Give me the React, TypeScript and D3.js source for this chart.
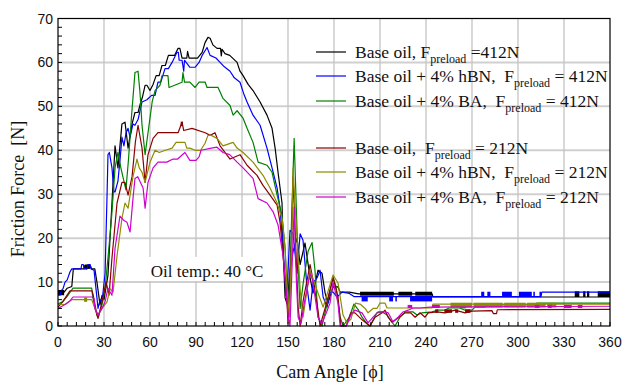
import React from "react";
import * as d3 from "d3";

type P = [number, number];
type Band = [number, number, number, number];

const angleTicks = [0, 30, 60, 90, 120, 150, 180, 210, 240, 270, 300, 330, 360];
const forceTicks = [0, 10, 20, 30, 40, 50, 60, 70];

const legendPrefix = [
  "Base oil, F",
  "Base oil + 4% hBN,  F",
  "Base oil + 4% BA,  F",
  "Base oil,  F",
  "Base oil + 4% hBN,  F",
  "Base oil + 4% BA,  F",
];
const legendSuffix = [" =412N", " = 412N", " = 412N", " = 212N", " = 212N", " = 212N"];
const seriesColors = ["#000000", "#0000ff", "#008000", "#8b0000", "#8c8c00", "#d000d0"];

const baseOil412: P[] = [
  [0, 7.3], [1, 8], [2, 7.3], [3, 8], [4, 7.7], [6, 8.6], [9, 9], [10, 13], [17, 13], [17.5, 13.8], [18.5, 13], [19.5, 13.8],
  [21, 13.8], [22, 13], [24, 13], [25.4, 10], [27.4, 4.8], [28.7, 7], [30, 6], [32.6, 11.6], [35.2, 28], [37.2, 41], [39.1, 36],
  [41.7, 46], [43.7, 46.4], [45.7, 40.5], [48.3, 46], [50.2, 48.6], [52.2, 48.6], [54, 51], [55, 52], [56.8, 54.8], [58, 54.8],
  [60, 53.6], [62, 55], [64, 57], [66, 57], [67.8, 59.3], [70, 59.3], [72, 61.6], [76, 61.6], [78.3, 63.2], [79.5, 63.2],
  [80.9, 61], [84, 61], [84.5, 62.5], [85.5, 61], [91, 61], [94, 62.3], [95.9, 64.5], [97.8, 65.7], [99.2, 65.5], [101, 64],
  [103.7, 63.2], [106, 63.2], [106.5, 61.5], [107, 63], [108.9, 62], [112, 61.6], [116.8, 60], [118.7, 58], [120.7, 57],
  [124, 55], [127.2, 53.6], [131.8, 51], [136.3, 48], [139.6, 45], [141.6, 40.5], [143.5, 35], [146.1, 28], [146.8, 17.7],
  [148.1, 6.4], [149.4, 5], [151.3, 12.7], [153.3, 17], [155.9, 20], [157.9, 14], [161.1, 18.9], [164.4, 11], [166.3, 7.5],
  [169.6, 12.7], [172.2, 12], [174.2, 7.5], [176.1, 5.2], [179.4, 8.9], [182.6, 8.9], [184, 7.7], [190, 7.7], [196, 7.3],
  [244, 7.3], [244.5, 6.6], [360, 6.6],
];
const hbn412: P[] = [
  [0, 7], [1.3, 7], [2, 8], [3.3, 8.5], [4.6, 10], [6, 10.5], [7.8, 12.3], [9, 13], [15, 13], [15.5, 14], [16.5, 14], [17, 13],
  [19, 13], [19.5, 14], [21, 14], [21.5, 13], [23.5, 12.7], [25.4, 6.4], [26.1, 4], [27.5, 6], [28.7, 5.5], [30.7, 12], [32, 30],
  [32.6, 39], [33.5, 39.5], [35.2, 36], [36.5, 30.5], [37.2, 30.5], [39.1, 33], [40.5, 38], [41.7, 43], [43, 41], [44.4, 44],
  [45.7, 45], [47, 43], [48.9, 46], [50.2, 45.7], [52.2, 47], [54.8, 51], [58, 51.5], [61, 52.5], [63.3, 52.5], [65.2, 55.5],
  [67, 55.5], [69.8, 58.6], [72, 58.6], [74.4, 60], [77.6, 62.3], [78.5, 62.3], [79, 60.5], [80.9, 60.5], [82, 58], [82.5, 60.5],
  [86, 58.9], [89.4, 58.9], [92, 60], [94, 61.6], [97.2, 63.4], [99.2, 61.6], [103, 61], [105.7, 60], [108.5, 59], [112.2, 58],
  [115, 56.5], [118.7, 55.5], [121, 53], [123.3, 51], [127.2, 48], [131.8, 45.7], [136.3, 40.5], [139.6, 36], [142.9, 31.4],
  [144.8, 26.8], [146.8, 17.7], [148.7, 7], [149.4, 8], [151.3, 21.8], [153.3, 21], [155.9, 12], [157.9, 21], [159.8, 19.5],
  [162.4, 8.9], [164.4, 3.6], [166.3, 9.8], [169, 11], [170.9, 12.7], [172.9, 6.6], [175.5, 4.3], [177.4, 7.7], [179.4, 7.7],
  [182, 6.6], [185.3, 7.7], [190, 7.4], [193, 6.7], [315, 6.7], [315.5, 7.7], [360, 7.7],
];
const ba412: P[] = [
  [0, 5], [3, 5.5], [6.5, 7], [9.8, 8.6], [22, 8.6], [22.5, 7], [24.1, 4], [26.1, 1.8], [28.7, 4.8], [30.7, 8.6], [32.6, 15.5],
  [35, 25], [37.2, 36], [39.1, 39.5], [41, 36], [44.3, 31], [46, 38], [48, 48], [50.2, 57.7], [52.2, 58], [53.5, 53],
  [54.8, 45.7], [56.8, 39], [58.7, 44], [61.4, 51], [63.3, 53.6], [66.5, 54.8], [67.8, 57], [71.7, 57], [72.4, 54.3],
  [80.9, 55.5], [81.5, 57.7], [82.5, 55.5], [86, 55.5], [89.4, 54.3], [92, 55.5], [96, 55.5], [97.2, 54.3], [104.4, 54.3],
  [107.6, 51.8], [112.2, 50.2], [114.2, 48], [116.8, 49], [120.7, 47.3], [123.3, 45], [127.2, 41.8], [130.5, 37.3],
  [136.3, 36.6], [139.6, 35], [142.9, 29.8], [146.1, 25.2], [148.1, 17.7], [149.4, 7.7], [150, 2], [151.5, 15], [154, 42.7],
  [156.6, 14], [157.9, 4], [160, 10], [163.1, 17], [165.7, 19], [167.6, 12.7], [169.6, 2], [172.2, 0], [177.4, 8], [179.4, 11],
  [181.3, 9], [184, 2], [186, 0], [190, 2], [193, 5], [196, 3.6], [198.3, 2], [201.6, 0.5], [203.5, 0], [205.5, 1.4], [208, 3],
  [211.4, 3.2], [214.6, 2.5], [216.6, 1.4], [219.8, 0], [223, 2], [226.4, 3.2], [231.6, 3.2], [234.2, 2.5], [237.4, 3],
  [244, 3.2], [247.9, 3.6], [252, 3.6], [255, 4.1], [262, 4.1], [265.5, 3.6], [270, 3.6], [272, 4.3], [278.5, 4.3], [280, 4.8],
  [310, 4.8], [312, 5.2], [360, 5.2],
];
const baseOil212: P[] = [
  [0, 4.3], [3, 5.5], [7.8, 8], [22.2, 8], [23, 7], [25.4, 2.5], [26.1, 1.8], [28.7, 5.5], [31.4, 10], [33.3, 7], [35.2, 15.5],
  [38.5, 28], [41.7, 32.7], [43.7, 32.7], [45.7, 29.8], [48.3, 34], [50.5, 42], [52.2, 45.7], [54.8, 40.5], [56.8, 32.7],
  [58.7, 39], [62, 42.7], [65.2, 44], [78.3, 44], [80.9, 46.4], [82, 44.5], [87.4, 45], [96, 44], [99.2, 43.4], [102.4, 44],
  [105.7, 41], [112.2, 38], [118.7, 39], [123.3, 36.6], [129.8, 34.3], [133.7, 32], [138.3, 29.8], [142.9, 27.5],
  [144.8, 23.6], [146.8, 16], [149.4, 5], [150, 0.7], [152, 15], [153.3, 34], [156.6, 4.3], [157.9, 0], [160, 6], [164.4, 14],
  [166, 11], [169, 5], [170.9, 0], [175, 5], [179.4, 11], [182.6, 6.6], [184.5, 0], [188, 0], [191, 3], [193.7, 3],
  [198.3, 1.4], [203.5, 0], [206.8, 2], [211.4, 3], [213.3, 3.6], [215.3, 2], [217.9, 0.9], [221.8, 1.8], [226.4, 3],
  [230, 3], [232.9, 2], [236.1, 3], [239.4, 2], [241.4, 3], [247.2, 3.2], [252.4, 3], [259, 3.6], [265.5, 3], [270, 3.4],
  [283, 3.5], [284, 2.8], [286, 2.8], [286.5, 3.7], [360, 3.8],
];
const hbn212: P[] = [
  [0, 5], [4.6, 4.9], [7, 5.5], [9, 6], [22, 6], [24.1, 4], [26.1, 2.5], [28.7, 4], [32, 5.5], [33.9, 8.5], [35.9, 7.7],
  [38.5, 16], [41.7, 24.5], [43.7, 28], [45.7, 26.8], [48.9, 34], [51.5, 38], [53, 36], [54.8, 35], [56.8, 32.7], [60, 37.3],
  [63.3, 40], [66, 39.5], [70, 40], [74.4, 40.5], [77, 41.8], [82.8, 41.8], [84, 40.5], [86, 40.5], [89.4, 40], [93, 40],
  [95.9, 41.6], [97.8, 43.4], [100, 43.4], [103.7, 42.7], [107.6, 41], [114.2, 41.8], [116.8, 40.5], [120.7, 39.5],
  [127.2, 37.3], [133.7, 34.3], [138.3, 31.4], [142.9, 28], [146.1, 24.5], [148.1, 17.7], [149.5, 8], [151, 2], [152.5, 20],
  [153.3, 36], [155, 25], [158, 8], [159.8, 2], [164.4, 12.7], [167, 10], [172.9, 4.3], [179.4, 11.6], [182.6, 9.8],
  [185.9, 2.5], [188.5, 0.7], [191, 1.5], [194, 5.2], [197, 5], [200.3, 4], [202.2, 3], [205.5, 4], [208, 4], [210, 5.2],
  [213.3, 5.2], [214.6, 4.1], [244, 4.1], [244.5, 5], [360, 5],
];
const ba212: P[] = [
  [0, 4], [4.6, 4.9], [7.8, 5.7], [9.8, 6.6], [22.2, 6.6], [23.5, 6.2], [24.1, 4], [26.1, 2.5], [28.7, 4], [30.7, 5.5],
  [32.6, 8.6], [35.2, 7], [37.2, 17.7], [40.4, 25], [43, 24], [45, 23.6], [47, 21.4], [48.9, 29], [50.2, 33.6], [52, 34],
  [55.5, 31.4], [56.8, 26.8], [58.7, 32.7], [62, 36], [65.2, 37.3], [71, 37.3], [75, 38], [78, 38], [82.8, 39.5], [86, 37.7],
  [90, 37.7], [92, 38.5], [93.3, 40], [100, 40.5], [103.7, 40.7], [107.6, 39.5], [112, 39], [116.8, 37.3], [120.7, 36],
  [127.2, 33.6], [130.5, 29], [136.3, 28], [140.3, 26], [143.5, 23], [146.8, 16], [149.4, 5.5], [150, 2.5], [151.3, 0],
  [154, 27], [155.5, 10], [156.6, 2], [158.5, 0.5], [161, 6], [164.4, 12], [166, 10.5], [169.6, 2], [172, 0.5], [175, 3],
  [177.4, 5.2], [179.4, 10], [182.6, 5.2], [184, 0], [188, 0], [191, 2.5], [193.7, 3.6], [198.3, 3], [202.2, 0.7],
  [205.5, 2], [208.7, 3.2], [213.3, 3.2], [215.3, 3], [218.5, 0.9], [221.8, 2], [225, 3.2], [228.3, 3.6], [231.6, 4.1],
  [236, 4.1], [242.7, 4.3], [360, 4.5],
];

// dense-noise blocks: [fromAngle, toAngle, low, high]
const baseOil412Noise: Band[] = [[0, 4, 7, 8.2], [17.5, 21, 13, 14], [197, 219, 6.9, 7.8], [222, 231, 6.9, 7.8], [233, 244, 6.9, 7.8], [337, 340, 6.6, 7.9], [342.5, 344, 6.6, 7.9], [345, 346.5, 6.6, 7.9], [352, 360, 6.6, 7.9]];
const hbn412Noise: Band[] = [[198, 202, 5.6, 6.7], [216, 218.5, 5.6, 6.7], [220, 221, 5.6, 6.7], [229.6, 244, 5.6, 6.7], [276, 278, 6.7, 7.8], [280, 282, 6.7, 7.8], [289.6, 296, 6.7, 7.8], [300.6, 309, 6.7, 7.8], [310, 311, 6.7, 7.8], [314, 315, 6.7, 7.8]];
const ba412Noise: Band[] = [[262, 266, 4, 5], [306, 312, 4.3, 5.2]];
const baseOil212Noise: Band[] = [[80, 81.5, 45.5, 46.5], [246, 248, 3, 3.8], [252, 257, 3, 3.8], [259, 261, 3, 3.8], [265.5, 269, 3, 3.8]];
const hbn212Noise: Band[] = [[17, 19, 5.5, 6.5], [256, 270, 4.2, 5.3], [271, 290, 4.2, 5.3], [291, 305, 4.2, 5.3], [306, 318, 4.2, 5.3], [319, 325, 4.2, 5.3]];
const ba212Noise: Band[] = [[228, 231, 4.1, 4.8], [244, 249, 4.1, 4.8], [311, 314, 4.1, 4.8], [319.6, 322, 4.1, 4.8], [330, 335, 4.1, 4.8], [339, 342, 4.1, 4.8]];

const allSeries = [baseOil412, hbn412, ba412, baseOil212, hbn212, ba212];
const allNoise = [baseOil412Noise, hbn412Noise, ba412Noise, baseOil212Noise, hbn212Noise, ba212Noise];

const W = 622, H = 383;
const L = 58, R = 610, T = 18.5, B = 326;
const serif = "'Liberation Serif', 'Times New Roman', serif";
const sans = "'Liberation Sans', Arial, sans-serif";

export default function App() {
  const x = d3.scaleLinear().domain([0, 360]).range([L, R]);
  const y = d3.scaleLinear().domain([0, 70]).range([B, T]);
  const line = d3.line<P>().x((d) => x(d[0])).y((d) => y(d[1]));
  const minorX = d3.range(0, 361, 6);
  const minorY = d3.range(0, 71, 2);
  const legendY = [52, 76, 101, 148, 172, 197];

  return (
    <svg width={W} height={H} style={{ position: "absolute", left: 0, top: 0, background: "#fff" }}>
      <defs>
        <clipPath id="plot">
          <rect x={L} y={T} width={R - L} height={B - T + 1} />
        </clipPath>
      </defs>
      <rect x={0} y={0} width={W} height={H} fill="#fff" />
      {forceTicks.slice(1, -1).map((v) => (
        <line key={"gy" + v} x1={L} x2={R} y1={y(v)} y2={y(v)} stroke="#d0d0d0" strokeWidth={2} />
      ))}
      {angleTicks.slice(1, -1).map((v) => (
        <line key={"gx" + v} x1={x(v)} x2={x(v)} y1={T} y2={B} stroke="#c4c4c4" strokeWidth={1.3} />
      ))}
      <rect x={146} y={257} width={122} height={24} fill="#fff" />
      <text x={207} y={277} textAnchor="middle" fontFamily={serif} fontSize={17} fill="#111">
        Oil temp.: 40 °C
      </text>
      <g clipPath="url(#plot)">
        {allSeries.map((s, i) => (
          <g key={"s" + i}>
            {allNoise[i].map((b, j) => (
              <rect key={j} x={x(b[0])} width={x(b[1]) - x(b[0])} y={y(b[3])} height={y(b[2]) - y(b[3])} fill={seriesColors[i]} />
            ))}
            <path d={line(s) || ""} fill="none" stroke={seriesColors[i]} strokeWidth={1.2} strokeLinejoin="round" />
          </g>
        ))}
      </g>
      {minorX.map((v) => (
        <line key={"tx" + v} x1={x(v)} x2={x(v)} y1={B} y2={B - 4} stroke="#000" strokeWidth={1} />
      ))}
      {minorY.map((v) => (
        <line key={"ty" + v} x1={L} x2={L + 4} y1={y(v)} y2={y(v)} stroke="#000" strokeWidth={1} />
      ))}
      <rect x={L} y={T} width={R - L} height={B - T} fill="none" stroke="#000" strokeWidth={1.2} />
      {forceTicks.map((v) => (
        <text key={"ly" + v} x={53} y={y(v) + 5} textAnchor="end" fontFamily={sans} fontSize={14} fill="#111">
          {v}
        </text>
      ))}
      {angleTicks.map((v) => (
        <text key={"lx" + v} x={x(v)} y={347} textAnchor="middle" fontFamily={sans} fontSize={14} fill="#111">
          {v}
        </text>
      ))}
      <text x={330} y={378} textAnchor="middle" fontFamily={serif} fontSize={18} fill="#111">
        Cam Angle [ϕ]
      </text>
      <text transform="translate(24,189) rotate(-90)" textAnchor="middle" fontFamily={serif} fontSize={18} fill="#111" style={{ whiteSpace: "pre" }}>
        {"Friction Force  [N]"}
      </text>
      {legendPrefix.map((p, i) => (
        <g key={"lg" + i}>
          <line x1={316} x2={346} y1={legendY[i]} y2={legendY[i]} stroke={seriesColors[i]} strokeWidth={1.2} />
          <text x={355} y={legendY[i] + 6} fontFamily={serif} fontSize={17.5} fill="#111" style={{ whiteSpace: "pre" }}>
            <tspan>{p}</tspan>
            <tspan dy={4.5} fontSize={12}>preload</tspan>
            <tspan dy={-4.5}>{legendSuffix[i]}</tspan>
          </text>
        </g>
      ))}
    </svg>
  );
}
